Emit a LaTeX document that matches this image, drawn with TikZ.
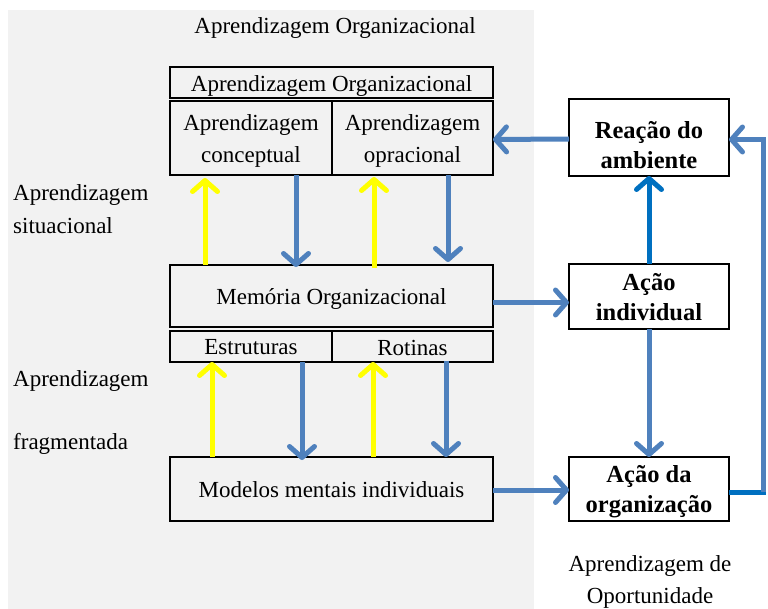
\documentclass[tikz,border=0pt]{standalone}
\usepackage{fontspec}
\setmainfont{Liberation Serif}
\usetikzlibrary{arrows.meta}
\definecolor{bg}{HTML}{F2F2F2}
\definecolor{ablue}{HTML}{4F81BD}
\definecolor{dblue}{HTML}{0070C0}
\definecolor{ayel}{HTML}{FFFF00}
\begin{document}
\begin{tikzpicture}[x=1pt,y=-1pt,
  every node/.style={font=\fontsize{23}{31.5}\selectfont},
  box/.style={draw=black, line width=2.4pt, fill=bg, inner sep=0pt, outer sep=0pt},
  wbox/.style={box, fill=white},
  txt/.style={inner sep=0pt, align=center},
  btxt/.style={txt, font=\fontsize{24.5}{30}\selectfont\bfseries},
  lbl/.style={inner sep=0pt, align=left, anchor=west},
  arr/.style={line width=5pt, -{Straight Barb[length=11pt,width=25pt,line cap=round,line join=round]}},
  yarr/.style={arr, draw=ayel},
  barr/.style={arr, draw=ablue},
  darr/.style={arr, draw=dblue}]
\useasboundingbox (0,0) rectangle (768,609);
\fill[bg] (8,10) rectangle (534,609);
\node (title) at (335,28) {Aprendizagem Organizacional};
% left block
\node[box, minimum width=323pt, minimum height=31pt] (hdr) at (331.5,82.3) {};
\node[box, minimum width=162pt, minimum height=74pt] (cellA) at (251,138) {};
\node[box, minimum width=161pt, minimum height=74pt] (cellB) at (412.5,138) {};
\node[box, minimum width=323pt, minimum height=62pt] (mem) at (331.5,296) {};
\node[box, minimum width=162pt, minimum height=31pt] (estr) at (251,346.5) {};
\node[box, minimum width=161pt, minimum height=31pt] (rot) at (412.5,346.5) {};
\node[box, minimum width=323pt, minimum height=64pt] (mod) at (331.5,489) {};
\node[txt] (hdrT) at ([yshift=-4pt]hdr.center) {Aprendizagem Organizacional};
\node[txt] (cellAT) at ([yshift=-3pt]cellA.center) {Aprendizagem\\conceptual};
\node[txt] (cellBT) at ([yshift=-3pt]cellB.center) {Aprendizagem\\opracional};
\node[txt] (memT) at ([yshift=-3pt]mem.center) {Memória Organizacional};
\node[txt] (estrT) at ([yshift=-1pt]estr.center) {Estruturas};
\node[txt] (rotT) at ([yshift=-1pt]rot.center) {Rotinas};
\node[txt] (modT) at ([yshift=-1pt]mod.center) {Modelos mentais individuais};
% right block
\node[wbox, minimum width=160pt, minimum height=77pt] (rea) at (649,137.5) {};
\node[wbox, minimum width=160pt, minimum height=65pt] (aind) at (649,296.5) {};
\node[wbox, minimum width=160pt, minimum height=64pt] (aorg) at (649,489) {};
\node[btxt] (reaT) at ([yshift=-8pt]rea.center) {Reação do\\ambiente};
\node[btxt] (aindT) at ([yshift=-1pt]aind.center) {Ação\\individual};
\node[btxt] (aorgT) at ([yshift=-3pt]aorg.center) {Ação da\\organização};
% labels
\node[lbl] (ls1) at (13,195) {Aprendizagem};
\node[lbl] (ls2) at (13,226) {situacional};
\node[lbl] (lf1) at (13,381) {Aprendizagem};
\node[lbl] (lf2) at (13,444) {fragmentada};
\node[align=center, inner sep=0pt] (op) at (650,582) {Aprendizagem de\\Oportunidade};
% vertical arrows, upper
\draw[yarr] ([xshift=35pt]mem.north west) -- ([xshift=35pt,yshift=-3pt]cellA.south west);
\draw[barr] ([xshift=126pt]cellA.south west) -- ([xshift=126pt,yshift=-2pt]mem.north west);
\draw[yarr] ([xshift=42pt,yshift=-3pt]cellB.south west |- mem.north) -- ([xshift=42pt,yshift=-2pt]cellB.south west);
\draw[barr] ([xshift=116pt]cellB.south west) -- ([xshift=116pt,yshift=3pt]cellB.south west |- mem.north);
% vertical arrows, lower
\draw[yarr] ([xshift=42pt]mod.north west) -- ([xshift=42pt]estr.south west);
\draw[barr] ([xshift=132pt]estr.south west) -- ([xshift=132pt,yshift=-3pt]mod.north west);
\draw[yarr] ([xshift=41pt]rot.south west |- mod.north) -- ([xshift=41pt]rot.south west);
\draw[barr] ([xshift=114pt,yshift=1pt]rot.south west) -- ([xshift=114pt]rot.south west |- mod.north);
% horizontal arrows
\draw[barr] ([yshift=-1.5pt]rea.west) -- ([yshift=-1.5pt]cellB.east);
\draw[barr] ([yshift=-6.5pt]mem.east) -- ([yshift=-6pt]aind.west);
\draw[barr] ([yshift=-1pt]mod.east) -- ([yshift=-1pt]aorg.west);
\draw[darr] (aind.north) -- (rea.south);
\draw[barr] (aind.south) -- (aorg.north);
% feedback loop
\coordinate (lx) at (763,0);
\coordinate (lb) at ([yshift=-3pt]aorg.east -| lx);
\coordinate (lt) at ([yshift=-2pt]rea.east -| lx);
\draw[dblue, line width=5pt] ([yshift=-3pt]aorg.east) -- ([xshift=2.5pt]lb);
\draw[barr, line join=miter] (lb) -- (lt) -- ([yshift=-2pt]rea.east);
\end{tikzpicture}
\end{document}
